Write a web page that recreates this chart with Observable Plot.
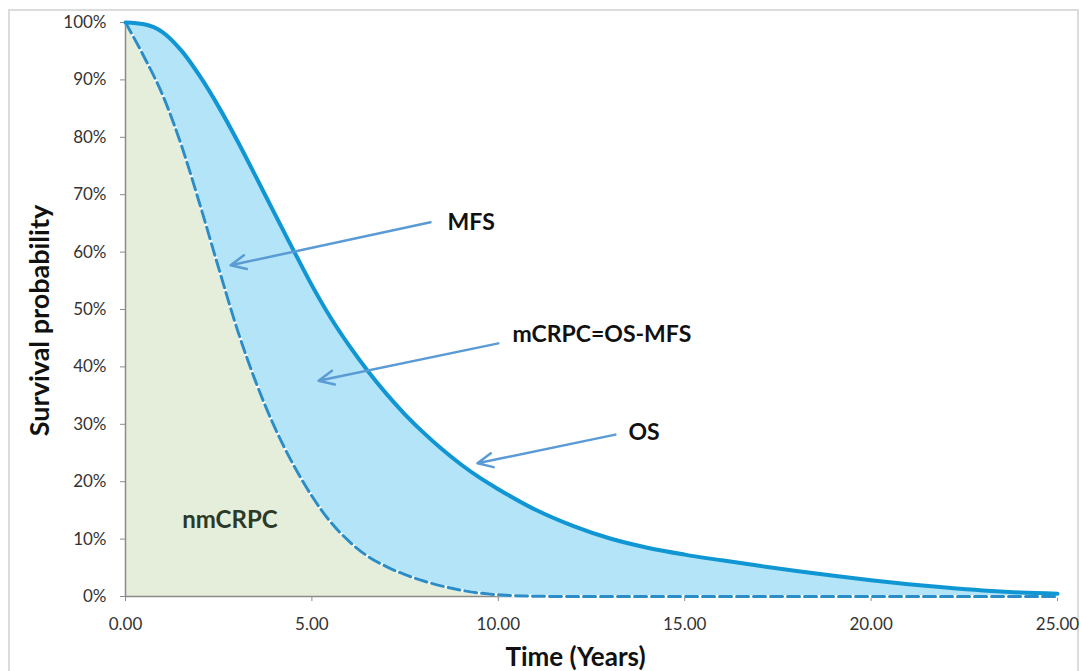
<!DOCTYPE html>
<html>
<head>
<meta charset="utf-8">
<script src="https://cdn.jsdelivr.net/npm/d3@7"></script>
<script src="https://cdn.jsdelivr.net/npm/@observablehq/plot@0.6"></script>
<style>
  html, body { margin: 0; padding: 0; background: #fff; }
  #wrap { position: relative; width: 1082px; height: 671px; overflow: hidden; }
  #border { position: absolute; left: 8px; top: 9px; width: 1071px; height: 700px; border: 2px solid #dcdcdc; box-sizing: border-box; pointer-events: none; }
  #chart { position: absolute; left: 0; top: 0; }
</style>
</head>
<body>
<div id="wrap"><div id="border"></div><div id="chart"></div></div>
<script>
// Time in years
const times = [0, 0.5, 1, 1.5, 2, 2.5, 3, 3.5, 4, 4.5, 5, 5.5, 6, 6.5, 7, 7.5, 8, 8.5, 9, 9.5, 10, 11, 12, 13, 14, 15, 16, 17, 18, 19, 20, 21, 22, 23, 24, 25];
// Overall survival (%)
const osValues = [100, 99.7, 98.3, 95.1, 90.6, 85.3, 79.4, 73.1, 66.7, 60.4, 54.2, 48.6, 43.7, 39.3, 35.3, 31.7, 28.5, 25.6, 23.0, 20.7, 18.7, 15.1, 12.3, 10.1, 8.5, 7.3, 6.3, 5.35, 4.45, 3.6, 2.85, 2.15, 1.55, 1.05, 0.7, 0.5];
// Metastasis-free survival (%)
const mfsValues = [100, 94, 87.3, 78.6, 68.2, 57.2, 46.5, 37.3, 29.5, 23, 17.5, 13, 9.6, 7.0, 5.2, 3.8, 2.7, 1.8, 1.1, 0.6, 0.3, 0.05, 0, 0, 0, 0, 0, 0, 0, 0, 0, 0, 0, 0, 0, 0];

const xTicks = [0, 5, 10, 15, 20, 25];
const yTicks = [0, 10, 20, 30, 40, 50, 60, 70, 80, 90, 100];

// Annotation labels and arrows (data coordinates)
const labelText = ["MFS", "mCRPC=OS-MFS", "OS"];
const labelX = [8.64, 10.38, 13.49];
const labelY = [65.2, 45.6, 28.6];
const arrowFromX = [8.18, 10.0, 13.14];
const arrowFromY = [65.2, 44.1, 28.2];
const arrowToX = [2.82, 5.18, 9.44];
const arrowToY = [57.7, 37.6, 23.2];
const regionLabel = ["nmCRPC"];
const regionX = [2.80];
const regionY = [13.2];

const rows = times.map((t, i) => ({t, os: osValues[i], mfs: mfsValues[i]}));
const labels = labelText.map((s, i) => ({s, x: labelX[i], y: labelY[i]}));
const arrows = labelText.map((s, i) => ({x1: arrowFromX[i], y1: arrowFromY[i], x2: arrowToX[i], y2: arrowToY[i]}));
const region = regionLabel.map((s, i) => ({s, x: regionX[i], y: regionY[i]}));

const curve = "monotone-x";
const font = "Lato, 'Open Sans', sans-serif";

const chart = Plot.plot({
  width: 1082,
  height: 671,
  marginLeft: 125,
  marginRight: 25,
  marginTop: 22,
  marginBottom: 75,
  style: {fontFamily: font, fontSize: "17px", color: "#333", background: "transparent"},
  x: {domain: [0, 25]},
  y: {domain: [0, 100]},
  marks: [
    Plot.areaY(rows, {x: "t", y1: 0, y2: "mfs", fill: "#e4eedb", curve}),
    Plot.areaY(rows, {x: "t", y1: "mfs", y2: "os", fill: "#b3e4f8", curve}),
    Plot.ruleX([0], {stroke: "#8a8a8a", strokeWidth: 1.5}),
    Plot.ruleY([0], {stroke: "#8a8a8a", strokeWidth: 1.5}),
    Plot.axisX({ticks: xTicks, tickFormat: d3.format(".2f"), tickSize: 5, tickPadding: 16, stroke: "#8a8a8a", label: null, fontSize: 17}),
    Plot.axisY({ticks: yTicks, tickFormat: d => d + "%", tickSize: 5, tickPadding: 14, stroke: "#8a8a8a", label: null, fontSize: 17}),
    Plot.line(rows, {x: "t", y: "mfs", stroke: "#ffffff", strokeWidth: 3, curve}),
    Plot.line(rows, {x: "t", y: "mfs", stroke: "#2a8dc8", strokeWidth: 3, strokeDasharray: "12,5", curve}),
    Plot.line(rows, {x: "t", y: "os", stroke: "#1196d4", strokeWidth: 4, curve}),
    Plot.arrow(arrows, {x1: "x1", y1: "y1", x2: "x2", y2: "y2", stroke: "#5b9bd5", strokeWidth: 2.5, headLength: 10, headAngle: 50}),
    Plot.text(labels, {x: "x", y: "y", text: "s", textAnchor: "start", fontSize: 23, fontWeight: "bold", fill: "#111"}),
    Plot.text(region, {x: "x", y: "y", text: "s", fontSize: 24, fontWeight: "bold", fill: "#2b3a28"}),
    Plot.text(["Survival probability"], {frameAnchor: "left", textAnchor: "middle", lineAnchor: "middle", dx: -85, dy: 11, rotate: -90, fontSize: 27, fontWeight: "bold", fill: "#111"}),
    Plot.text(["Time (Years)"], {frameAnchor: "bottom", textAnchor: "middle", lineAnchor: "middle", dx: -16, dy: 61, fontSize: 26, fontWeight: "bold", fill: "#111"})
  ]
});
document.getElementById("chart").appendChild(chart);
</script>
</body>
</html>
